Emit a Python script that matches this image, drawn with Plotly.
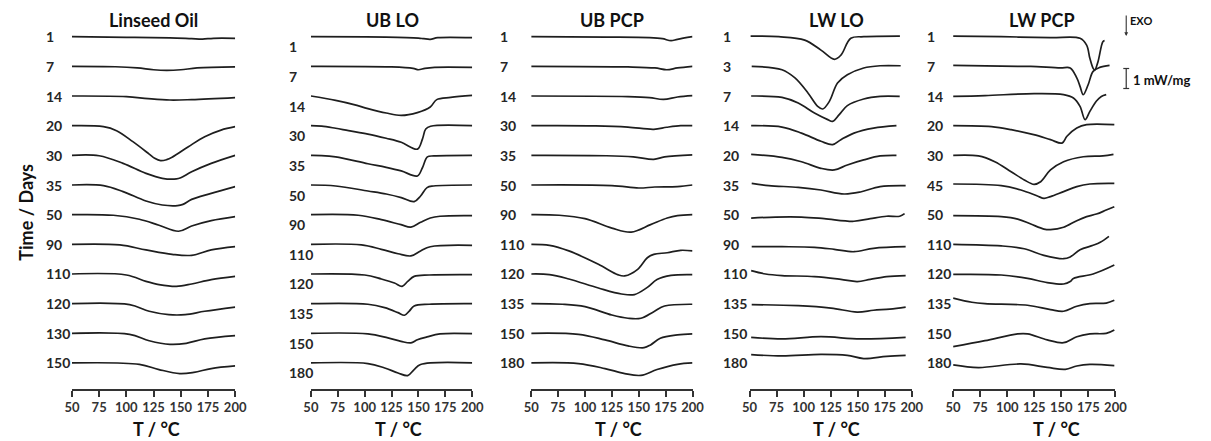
import plotly.graph_objects as go

# ---------------------------------------------------------------------------
# DSC thermograms (heat flow offset, mW/mg) vs temperature (°C), one stacked
# curve per ageing time. Each curve: temperatures and heat-flow deviation
# from its own stacking baseline (exo down).
# ---------------------------------------------------------------------------
panel_titles = ["Linseed Oil", "UB LO", "UB PCP", "LW LO", "LW PCP"]

linseed_days = [1, 7, 14, 20, 30, 35, 50, 90, 110, 120, 130, 150]
linseed_T = [
    [50, 100, 140, 160, 170, 180, 200],
    [50, 90, 110, 125, 137, 150, 165, 200],
    [50, 100, 120, 140, 160, 200],
    [50, 79, 91, 106, 121, 126, 131.5, 137, 142, 157, 172, 187, 200],
    [50, 75, 97, 118, 133, 146, 150, 160, 178, 200],
    [50, 79, 97, 118, 133, 147, 152, 160, 178, 200],
    [50, 88, 112, 130, 148, 160, 178, 200],
    [50, 94, 118, 142, 160, 178, 200],
    [50, 100, 118, 130, 146, 160, 178, 200],
    [50, 103, 121, 139, 154, 172, 200],
    [50, 103, 121, 140, 155, 172, 200],
    [50, 112, 130, 149, 162, 178, 200],
]
linseed_hf = [
    [0, -0.03, -0.06, -0.1, -0.12, -0.08, -0.08],
    [0, -0.02, -0.08, -0.17, -0.2, -0.17, -0.08, -0.03],
    [0, -0.03, -0.13, -0.2, -0.18, -0.08],
    [0, -0.05, -0.25, -0.8, -1.42, -1.63, -1.75, -1.7, -1.58, -1.05, -0.55, -0.22, -0.05],
    [0, -0.02, -0.4, -0.9, -1.15, -1.18, -1.12, -0.82, -0.4, 0],
    [0, -0.03, -0.33, -0.8, -1.0, -1.03, -0.97, -0.72, -0.42, -0.08],
    [0, -0.03, -0.23, -0.53, -0.83, -0.57, -0.3, -0.1],
    [0, -0.03, -0.28, -0.5, -0.55, -0.28, -0.12],
    [0, -0.05, -0.37, -0.53, -0.62, -0.5, -0.28, -0.12],
    [0, -0.05, -0.38, -0.55, -0.55, -0.38, -0.17],
    [0, -0.05, -0.37, -0.55, -0.5, -0.28, -0.12],
    [0, -0.07, -0.33, -0.53, -0.47, -0.28, -0.15],
]

ub_lo_days = [1, 7, 14, 30, 35, 50, 90, 110, 120, 135, 150, 180]
ub_lo_T = [
    [50, 120, 150, 155, 161, 168, 200],
    [50, 125, 145, 150, 156, 165, 200],
    [50, 73, 90, 103, 120, 134, 149, 161, 167, 180, 200],
    [50, 60, 73, 85, 103, 120, 134, 149, 153.7, 156.8, 161.3, 200],
    [50, 60, 73, 103, 120, 134, 149, 153.7, 158.3, 164.4, 200],
    [50, 73, 103, 120, 134, 146, 152, 158, 164, 200],
    [50, 94, 115.5, 133.8, 143, 152, 161, 170, 200],
    [50, 97, 115.5, 131, 143, 152, 161, 200],
    [50, 100, 115.5, 127.7, 134.8, 140, 146, 160, 200],
    [50, 103, 118.6, 131, 137, 141.5, 146, 160, 200],
    [50, 103, 121.6, 133.8, 143, 149, 158, 170, 200],
    [50, 103, 118.6, 131, 140, 146, 152, 200],
]
ub_lo_hf = [
    [0, -0.02, -0.07, -0.1, -0.13, -0.05, -0.05],
    [0, -0.03, -0.1, -0.17, -0.1, -0.05, -0.05],
    [0, -0.22, -0.43, -0.63, -0.85, -0.97, -0.83, -0.55, -0.18, -0.07, 0.03],
    [0, -0.02, -0.13, -0.25, -0.42, -0.63, -0.83, -1.17, -0.67, -0.17, -0.03, 0],
    [0, -0.01, -0.08, -0.42, -0.6, -0.78, -1.03, -0.62, -0.08, -0.03, 0],
    [0, -0.05, -0.3, -0.45, -0.63, -0.83, -0.55, -0.13, -0.05, 0],
    [0, -0.03, -0.25, -0.5, -0.62, -0.38, -0.17, -0.08, -0.05],
    [0, -0.03, -0.25, -0.47, -0.58, -0.33, -0.12, -0.05],
    [0, -0.05, -0.25, -0.45, -0.62, -0.37, -0.12, -0.05, -0.03],
    [0, -0.03, -0.2, -0.45, -0.58, -0.37, -0.12, -0.03, 0],
    [0, -0.03, -0.23, -0.4, -0.48, -0.32, -0.18, -0.03, -0.02],
    [0, -0.03, -0.25, -0.5, -0.63, -0.33, -0.08, 0],
]

ub_pcp_days = [1, 7, 14, 30, 35, 50, 90, 110, 120, 135, 150, 180]
ub_pcp_T = [
    [50, 120, 160, 172, 180, 186, 200],
    [50, 140, 165, 176, 186, 200],
    [50, 140, 160, 173, 186, 200],
    [50, 110, 140, 164, 176, 189, 200],
    [50, 120, 145, 164, 174, 200],
    [50, 125, 150, 165, 186, 200],
    [50, 76, 100, 125, 143, 161, 176.5, 186, 200],
    [50, 67, 85, 112.5, 131, 137, 149, 158, 164, 176.5, 189, 200],
    [50, 67, 85, 112.5, 134, 146, 158, 167, 180, 200],
    [50, 79, 100, 125, 140, 152, 164, 174, 200],
    [50, 94, 118.6, 140, 155, 161, 170, 186, 200],
    [50, 94, 118.6, 137, 152, 167, 186, 200],
]
ub_pcp_hf = [
    [0, -0.02, -0.05, -0.1, -0.2, -0.13, 0],
    [0, -0.03, -0.08, -0.17, -0.08, 0],
    [0, -0.03, -0.08, -0.17, -0.05, 0.02],
    [0, -0.01, -0.07, -0.18, -0.08, 0, 0],
    [0, -0.02, -0.08, -0.2, -0.08, 0.02],
    [0, -0.03, -0.15, -0.1, -0.08, 0],
    [0, -0.03, -0.2, -0.67, -0.87, -0.5, -0.17, -0.05, 0],
    [0, -0.05, -0.33, -1.0, -1.53, -1.58, -1.25, -0.67, -0.5, -0.42, -0.3, -0.33],
    [0, -0.03, -0.25, -0.7, -1.0, -1.03, -0.67, -0.28, -0.07, -0.03],
    [0, -0.03, -0.15, -0.57, -0.73, -0.73, -0.4, -0.12, -0.03],
    [0, -0.05, -0.33, -0.63, -0.72, -0.58, -0.25, -0.08, -0.03],
    [0, -0.03, -0.28, -0.53, -0.62, -0.33, -0.07, 0],
]

lw_lo_days = [1, 3, 7, 14, 20, 35, 50, 90, 110, 135, 150, 180]
lw_lo_T = [
    [51, 77, 101, 116, 128.4, 134.5, 143.6, 155.7, 189],
    [52, 80, 92, 104, 113, 117.7, 123.8, 131.3, 140.4, 155.5, 170.7, 189.7],
    [51.5, 80, 95, 110, 122.3, 126.8, 132.9, 140.4, 155.5, 170.7, 188.8],
    [51.5, 80, 98, 116, 126.8, 134.4, 146.5, 164.6, 185.8],
    [51.5, 80, 98, 116, 128.3, 140.4, 155.5, 170.7, 185.8],
    [52, 67.8, 95, 116, 137.4, 152.5, 170.7, 194.3],
    [51.5, 74, 98, 119, 146.5, 161.6, 176.7, 188.8, 193.3],
    [52, 80, 110, 128.3, 146.5, 164.6, 194.3],
    [51.5, 64.8, 80, 110, 134.4, 149.5, 161.6, 176.7, 194.3],
    [52, 95, 125.3, 149.5, 164.6, 179.7, 194.3],
    [51.5, 80, 116, 152.5, 194.3],
    [51.5, 80, 116, 140.4, 155.5, 176.7, 194.3],
]
lw_lo_hf = [
    [0.03, 0, -0.17, -0.67, -1.13, -0.92, -0.08, 0, 0.03],
    [0, -0.17, -0.58, -1.33, -2.0, -2.13, -1.75, -0.83, -0.42, -0.08, 0.03, 0.03],
    [0, -0.07, -0.35, -0.85, -1.18, -1.27, -0.93, -0.48, -0.15, -0.02, -0.02],
    [0, -0.07, -0.37, -0.78, -0.95, -0.7, -0.37, -0.12, 0],
    [0.05, -0.1, -0.32, -0.65, -0.73, -0.48, -0.23, -0.03, 0],
    [0.08, -0.03, -0.12, -0.25, -0.45, -0.35, -0.08, -0.03],
    [-0.17, -0.12, -0.12, -0.2, -0.33, -0.2, -0.08, -0.08, 0.05],
    [-0.12, -0.12, -0.15, -0.25, -0.37, -0.2, -0.12],
    [0.17, 0, -0.08, -0.13, -0.27, -0.38, -0.27, -0.13, -0.08],
    [-0.05, -0.1, -0.22, -0.42, -0.33, -0.27, -0.17],
    [-0.2, -0.28, -0.17, -0.28, -0.2],
    [0.42, 0.35, 0.43, 0.38, 0.22, 0.33, 0.38],
]

lw_pcp_days = [1, 7, 14, 20, 30, 45, 50, 110, 120, 135, 150, 180]
lw_pcp_T = [
    [50, 94.5, 140, 167.3, 173.4, 176.4, 179.4, 180.9, 183.9, 188.4, 190],
    [50, 109.7, 121.8, 149.1, 158.2, 164.3, 167.3, 170.3, 174.8, 179.4, 185.5, 194.6],
    [50, 79.4, 124.8, 152.1, 161.2, 167.3, 172, 176.4, 182.5, 187, 191.5],
    [50, 85.5, 103.6, 124.5, 140, 150.6, 155.2, 164.3, 173.4, 199],
    [50, 73.4, 88.5, 103.6, 115.8, 124.8, 130.9, 140, 152.1, 170.3, 188.5, 198.2],
    [50, 94.5, 112.7, 127.9, 134, 140, 152.1, 164.3, 176.4, 199],
    [50, 94.5, 109.7, 121.8, 133.9, 140, 152.1, 164.3, 173.4, 182.5, 191.5, 199],
    [50, 94.5, 115.7, 133.9, 152.1, 158.2, 167.3, 179.4, 186, 194],
    [50, 94.5, 118.8, 137, 152.1, 158.2, 161.2, 179.4, 199],
    [50, 67.3, 79.4, 118.8, 140, 152.1, 164.3, 176.4, 191.5, 199],
    [50, 79.4, 109.7, 118.8, 137, 152.1, 164.3, 176.4, 191.5, 199],
    [50, 73.4, 112.7, 137, 153.7, 164.3, 176.4, 199],
]
lw_pcp_hf = [
    [0.03, 0, -0.05, -0.08, -0.42, -1.08, -1.58, -1.67, -1.25, -0.25, -0.2],
    [0.05, 0, 0, -0.08, -0.08, -0.58, -1.0, -1.42, -0.92, -0.25, -0.05, 0.05],
    [-0.02, 0.02, 0.12, 0.07, -0.1, -0.52, -1.18, -0.77, -0.25, -0.02, 0.07],
    [0, -0.05, -0.2, -0.45, -0.7, -0.87, -0.53, -0.12, 0.05, 0.05],
    [0, -0.03, -0.32, -0.82, -1.23, -1.45, -1.32, -0.73, -0.32, -0.07, -0.03, 0.05],
    [0.05, -0.03, -0.25, -0.55, -0.67, -0.58, -0.33, -0.08, 0.05, 0.08],
    [-0.05, -0.1, -0.22, -0.47, -0.72, -0.75, -0.63, -0.3, -0.1, 0.03, 0.23, 0.4],
    [0, -0.08, -0.22, -0.55, -0.72, -0.63, -0.27, -0.05, 0.1, 0.4],
    [-0.02, -0.05, -0.22, -0.43, -0.5, -0.38, -0.22, 0, 0.45],
    [0.28, 0.07, 0, -0.08, -0.3, -0.38, -0.13, 0, 0.03, 0.17],
    [-0.67, -0.37, -0.03, -0.03, -0.33, -0.47, -0.17, -0.03, 0, 0.17],
    [-0.1, -0.23, -0.05, -0.22, -0.32, -0.15, -0.07, -0.13],
]

x_ticks = [50, 75, 100, 125, 150, 175, 200]
scale_bar_value = 1  # mW/mg

panels = [
    (linseed_days, linseed_T, linseed_hf),
    (ub_lo_days, ub_lo_T, ub_lo_hf),
    (ub_pcp_days, ub_pcp_T, ub_pcp_hf),
    (lw_lo_days, lw_lo_T, lw_lo_hf),
    (lw_pcp_days, lw_pcp_T, lw_pcp_hf),
]

# ---------------------------------------------------------------------------
# Layout geometry (pixels of a 1211 x 441 canvas)
# ---------------------------------------------------------------------------
W, H = 1211, 441
PX_PER_UNIT = 20.0              # vertical pixels per mW/mg
ROW_STEP = 29.66 / PX_PER_UNIT  # stacking offset between curves (mW/mg)
FIRST_ROW_PX = 36.7
AXIS_PX = 389.0
Y_TOP = FIRST_ROW_PX / PX_PER_UNIT
Y_BOTTOM = -(AXIS_PX - FIRST_ROW_PX) / PX_PER_UNIT

x_domains_px = [(65, 231), (308, 472), (532, 696), (754, 919), (961, 1126)]
label_left_px = [37, 283.5, 498, 725, 932]
label_drop_px = [0, 10, 0, 0, 0]
title_center_px = [147.5, 391, 614.5, 842, 1051]
xtitle_center_px = [151.5, 397, 621, 842, 1066]

FONT = "Lato"
INK = "#1e1e1e"
TEXT = "#262626"


def fx(px):
    return px / W


def fy(py):
    return 1 - py / H


fig = go.Figure()
layout_axes = {}
annotations = []

for k, (days, temps, flows) in enumerate(panels):
    n = k + 1
    xa = "x" if n == 1 else f"x{n}"
    ya = "y" if n == 1 else f"y{n}"
    for i, (T, hf) in enumerate(zip(temps, flows)):
        fig.add_trace(go.Scatter(
            x=T,
            y=[v - i * ROW_STEP for v in hf],
            mode="lines",
            line=dict(color=INK, width=1.7, shape="spline", smoothing=1.0),
            xaxis=xa, yaxis=ya,
            showlegend=False, hoverinfo="skip",
        ))
        annotations.append(dict(
            text=str(days[i]), xref="paper", yref=ya,
            x=fx(label_left_px[k]), y=-i * ROW_STEP - label_drop_px[k] / PX_PER_UNIT,
            xanchor="left", yanchor="middle", showarrow=False,
            font=dict(family=FONT, size=14, color=TEXT, weight="bold"),
        ))

    d0, d1 = x_domains_px[k]
    layout_axes["xaxis" if n == 1 else f"xaxis{n}"] = dict(
        domain=[fx(d0), fx(d1)], range=[50, 200], anchor=ya,
        tickvals=x_ticks, ticks="outside", ticklen=6, tickwidth=1.5,
        tickcolor="#333333", showline=True, linecolor="#333333", linewidth=1.5,
        showgrid=False, zeroline=False,
        tickfont=dict(family=FONT, size=13, color="#333333", weight="bold"),
    )
    layout_axes["yaxis" if n == 1 else f"yaxis{n}"] = dict(
        domain=[fy(AXIS_PX), 1], range=[Y_BOTTOM, Y_TOP], anchor=xa,
        visible=False, showgrid=False, zeroline=False,
    )

    annotations.append(dict(
        text=panel_titles[k], xref="paper", yref="paper",
        x=fx(title_center_px[k]), y=fy(20), xanchor="center", yanchor="middle",
        showarrow=False, font=dict(family=FONT, size=18, color="#111111", weight="bold"),
    ))
    annotations.append(dict(
        text="T / °C", xref="paper", yref="paper",
        x=fx(xtitle_center_px[k]), y=fy(429), xanchor="center", yanchor="middle",
        showarrow=False, font=dict(family=FONT, size=18, color="#111111", weight="bold"),
    ))

# y-axis title
annotations.append(dict(
    text="Time / Days", xref="paper", yref="paper", x=fx(18), y=fy(212),
    xanchor="center", yanchor="middle", textangle=-90, showarrow=False,
    font=dict(family=FONT, size=18, color="#111111", weight="bold"),
))

# exo direction marker
annotations.append(dict(
    text="EXO", xref="paper", yref="paper", x=fx(1139), y=fy(20),
    xanchor="left", yanchor="middle", showarrow=False,
    font=dict(family=FONT, size=11, color="#111111", weight="bold"),
))
annotations.append(dict(
    text="", xref="paper", yref="paper", axref="pixel", ayref="pixel",
    x=fx(1137), y=fy(36), ax=0, ay=-22, showarrow=True,
    arrowhead=2, arrowsize=0.7, arrowwidth=1.1, arrowcolor="#333333",
))

# heat-flow scale bar (height = scale_bar_value in the y-axis units)
bar_h_px = scale_bar_value * PX_PER_UNIT
bar_cx, bar_cy = 1137, 78.5
shapes = [
    dict(type="line", xref="paper", yref="paper",
         x0=fx(bar_cx), x1=fx(bar_cx),
         y0=fy(bar_cy - bar_h_px / 2), y1=fy(bar_cy + bar_h_px / 2),
         line=dict(color="#333333", width=1.2)),
    dict(type="line", xref="paper", yref="paper",
         x0=fx(bar_cx - 3), x1=fx(bar_cx + 3),
         y0=fy(bar_cy - bar_h_px / 2), y1=fy(bar_cy - bar_h_px / 2),
         line=dict(color="#333333", width=1.2)),
    dict(type="line", xref="paper", yref="paper",
         x0=fx(bar_cx - 3), x1=fx(bar_cx + 3),
         y0=fy(bar_cy + bar_h_px / 2), y1=fy(bar_cy + bar_h_px / 2),
         line=dict(color="#333333", width=1.2)),
]
annotations.append(dict(
    text=f"{scale_bar_value} mW/mg", xref="paper", yref="paper",
    x=fx(1142), y=fy(80), xanchor="left", yanchor="middle", showarrow=False,
    font=dict(family=FONT, size=13, color="#111111", weight="bold"),
))

fig.update_layout(
    width=W, height=H,
    margin=dict(l=0, r=0, t=0, b=0),
    paper_bgcolor="white", plot_bgcolor="white",
    showlegend=False,
    annotations=annotations,
    shapes=shapes,
    **layout_axes,
)

fig.write_html("out.html", config={"displayModeBar": False})
